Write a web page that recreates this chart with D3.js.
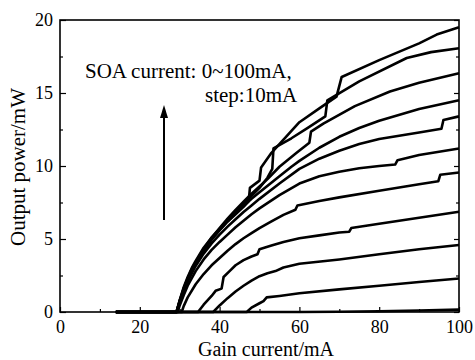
<!DOCTYPE html>
<html>
<head>
<meta charset="utf-8">
<script src="https://cdn.jsdelivr.net/npm/d3@7"></script>
<style>
  html, body { margin: 0; padding: 0; background: #fff; }
</style>
</head>
<body>
<div id="chart"></div>
<script>
// gain current (mA) vs output power (mW), one curve per SOA current
const xTicks = [0, 20, 40, 60, 80, 100];
const yTicks = [0, 5, 10, 15, 20];
const xMinor = [10, 30, 50, 70, 90];
const yMinor = [2.5, 7.5, 12.5, 17.5];

const soaLevels = [0, 10, 20, 30, 40, 50, 60, 70, 80, 90, 100];

const soa0 = [[14,0],[60,0],[70,0.02],[80,0.05],[90,0.1],[100,0.16]];
const soa10 = [[14,0],[46.8,0],[48,0.3],[50,0.6],[51,0.75],[51.8,1.0],[55,1.1],[60,1.28],[70,1.55],[80,1.8],[90,2.05],[100,2.3]];
const soa20 = [[14,0],[38.4,0],[40,0.45],[42,0.95],[44,1.4],[46,1.8],[48,2.15],[50,2.45],[52,2.65],[54,2.8],[56,3.05],[60,3.3],[70,3.6],[80,3.95],[90,4.3],[100,4.59]];
const soa30 = [[14,0],[34.6,0],[36,0.5],[38,1.1],[39,1.45],[40.5,1.6],[41,2.4],[42.5,2.8],[44,3.2],[46,3.55],[48,3.8],[49.5,3.95],[50,4.3],[53,4.55],[56,4.8],[60,5.05],[65,5.25],[70,5.45],[72.5,5.5],[73,5.75],[80,6.05],[90,6.45],[100,6.87]];
const soa40 = [[14,0],[30.5,0],[31,0.4],[32,1.0],[34,1.9],[36,2.6],[38,3.2],[40,3.7],[42,4.2],[44,4.65],[46,5.05],[48,5.4],[50,5.75],[53,6.2],[56,6.65],[59,7.0],[59.5,7.3],[65,7.6],[70,7.85],[80,8.3],[90,8.75],[94.8,8.95],[95.3,9.4],[100,9.55]];
const soa50 = [[14,0],[29.5,0],[30,0.45],[31,1.15],[32,1.8],[34,2.8],[36,3.6],[38,4.25],[40,4.8],[42,5.3],[44,5.8],[46,6.25],[48,6.7],[50,7.1],[55,8.0],[60,8.8],[65,9.3],[70,9.6],[75,9.85],[80,10.0],[84,10.1],[84.6,10.4],[90,10.75],[100,11.2]];
const soa60 = [[14,0],[29.2,0],[30,0.7],[31,1.4],[32,2.1],[34,3.15],[36,4.0],[38,4.7],[40,5.3],[42,5.85],[44,6.35],[46,6.85],[48,7.3],[50,7.75],[55,8.8],[60,9.8],[65,10.5],[70,11.05],[75,11.5],[80,11.85],[90,12.3],[95.6,12.55],[96.1,13.15],[100,13.4]];
const soa70 = [[14,0],[29.2,0],[30,0.75],[31,1.5],[32,2.2],[34,3.3],[36,4.2],[38,4.95],[40,5.6],[42,6.2],[44,6.75],[46,7.25],[48,7.75],[50,8.2],[55,9.3],[58,9.95],[60,10.35],[65,11.25],[70,12.0],[75,12.6],[80,13.1],[90,13.9],[100,14.5]];
const soa80 = [[14,0],[29.2,0],[30,0.8],[31,1.6],[32,2.3],[33,2.9],[34,3.4],[36,4.3],[38,5.1],[40,5.75],[42,6.4],[44,7.0],[46,7.55],[48,8.1],[50,8.6],[52,9.1],[55,9.95],[59.3,10.9],[62.5,11.6],[62.9,12.35],[66,12.9],[73.9,14.1],[82.7,15.1],[90,15.7],[100,16.35]];
const soa90 = [[14,0],[29.2,0],[30,0.8],[31,1.7],[32,2.4],[33,3.0],[34,3.5],[36,4.4],[38,5.1],[40,5.7],[42,6.3],[44,6.9],[46,7.4],[48,7.95],[50,8.5],[52,9.2],[53.2,9.8],[53.5,11.2],[58,11.9],[62,12.6],[66.5,13.4],[67,14.5],[75,15.8],[86.9,17.4],[93,17.8],[100,18.06]];
const soa100 = [[14,0],[29.2,0],[30,0.7],[31,1.6],[32,2.3],[33,2.9],[34,3.4],[36,4.3],[38,5.0],[40,5.6],[42,6.2],[44,6.7],[46,7.2],[47.3,7.6],[47.6,8.5],[50,9.0],[50.4,9.9],[53,10.9],[60,13.0],[65,13.95],[69.3,14.75],[70.6,16.1],[80,17.25],[90,18.4],[94.4,19.0],[100,19.5]];

const curves = [soa0, soa10, soa20, soa30, soa40, soa50, soa60, soa70, soa80, soa90, soa100];

const width = 475;
const height = 360;
const margin = { top: 20, right: 16, bottom: 48, left: 60 };
const serif = '"Liberation Serif", "Times New Roman", "DejaVu Serif", serif';

const x = d3.scaleLinear()
    .domain([0, 100])
    .range([margin.left, width - margin.right]);

const y = d3.scaleLinear()
    .domain([0, 20])
    .range([height - margin.bottom, margin.top]);

const svg = d3.select('#chart')
    .append('svg')
    .attr('width', width)
    .attr('height', height)
    .attr('font-family', serif);

// curves
const line = d3.line()
    .x(d => x(d[0]))
    .y(d => y(d[1]));

svg.append('g')
    .selectAll('path')
    .data(curves)
    .enter()
    .append('path')
    .attr('d', line)
    .attr('fill', 'none')
    .attr('stroke', '#000')
    .attr('stroke-width', 2.6)
    .attr('stroke-linejoin', 'round');

// bottom axis, ticks pointing in
svg.append('g')
    .attr('transform', `translate(0,${y(0)})`)
    .call(d3.axisBottom(x).tickValues(xTicks).tickSize(-5).tickPadding(8).tickFormat(d3.format('d')))
    .call(g => g.select('.domain').remove())
    .attr('font-family', serif)
    .attr('font-size', 18);

svg.append('g')
    .attr('transform', `translate(0,${y(0)})`)
    .call(d3.axisBottom(x).tickValues(xMinor).tickSize(-3).tickFormat(''))
    .call(g => g.select('.domain').remove());

// left axis
svg.append('g')
    .attr('transform', `translate(${x(0)},0)`)
    .call(d3.axisLeft(y).tickValues(yTicks).tickSize(-6).tickPadding(7))
    .call(g => g.select('.domain').remove())
    .attr('font-family', serif)
    .attr('font-size', 18);

svg.append('g')
    .attr('transform', `translate(${x(0)},0)`)
    .call(d3.axisLeft(y).tickValues(yMinor).tickSize(-3).tickFormat(''))
    .call(g => g.select('.domain').remove());

// right axis, no labels
svg.append('g')
    .attr('transform', `translate(${x(100)},0)`)
    .call(d3.axisRight(y).tickValues(yTicks).tickSize(-5).tickFormat(''))
    .call(g => g.select('.domain').remove());

svg.append('g')
    .attr('transform', `translate(${x(100)},0)`)
    .call(d3.axisRight(y).tickValues(yMinor).tickSize(-3).tickFormat(''))
    .call(g => g.select('.domain').remove());

svg.selectAll('.tick line').attr('stroke', '#000').attr('stroke-width', 1.2);
svg.selectAll('.tick text').attr('fill', '#000');

// frame
svg.append('rect')
    .attr('x', x(0))
    .attr('y', y(20))
    .attr('width', x(100) - x(0))
    .attr('height', y(0) - y(20))
    .attr('fill', 'none')
    .attr('stroke', '#000')
    .attr('stroke-width', 1.6);

// axis titles
svg.append('text')
    .attr('x', 266)
    .attr('y', 355.5)
    .attr('text-anchor', 'middle')
    .attr('font-size', 20)
    .text('Gain current/mA');

svg.append('text')
    .attr('transform', `translate(25,167) rotate(-90)`)
    .attr('text-anchor', 'middle')
    .attr('font-size', 21)
    .text('Output power/mW');

// annotation
svg.append('text')
    .attr('x', 85)
    .attr('y', 78)
    .attr('font-size', 21)
    .text('SOA current: 0~100mA,');

svg.append('text')
    .attr('x', 205)
    .attr('y', 102)
    .attr('font-size', 21)
    .text('step:10mA');

const arrowX = 164;
svg.append('line')
    .attr('x1', arrowX).attr('x2', arrowX)
    .attr('y1', 220).attr('y2', 114)
    .attr('stroke', '#000')
    .attr('stroke-width', 2);

svg.append('path')
    .attr('d', `M${arrowX},105 L${arrowX - 4},118 L${arrowX + 4},118 Z`)
    .attr('fill', '#000');
</script>
</body>
</html>
